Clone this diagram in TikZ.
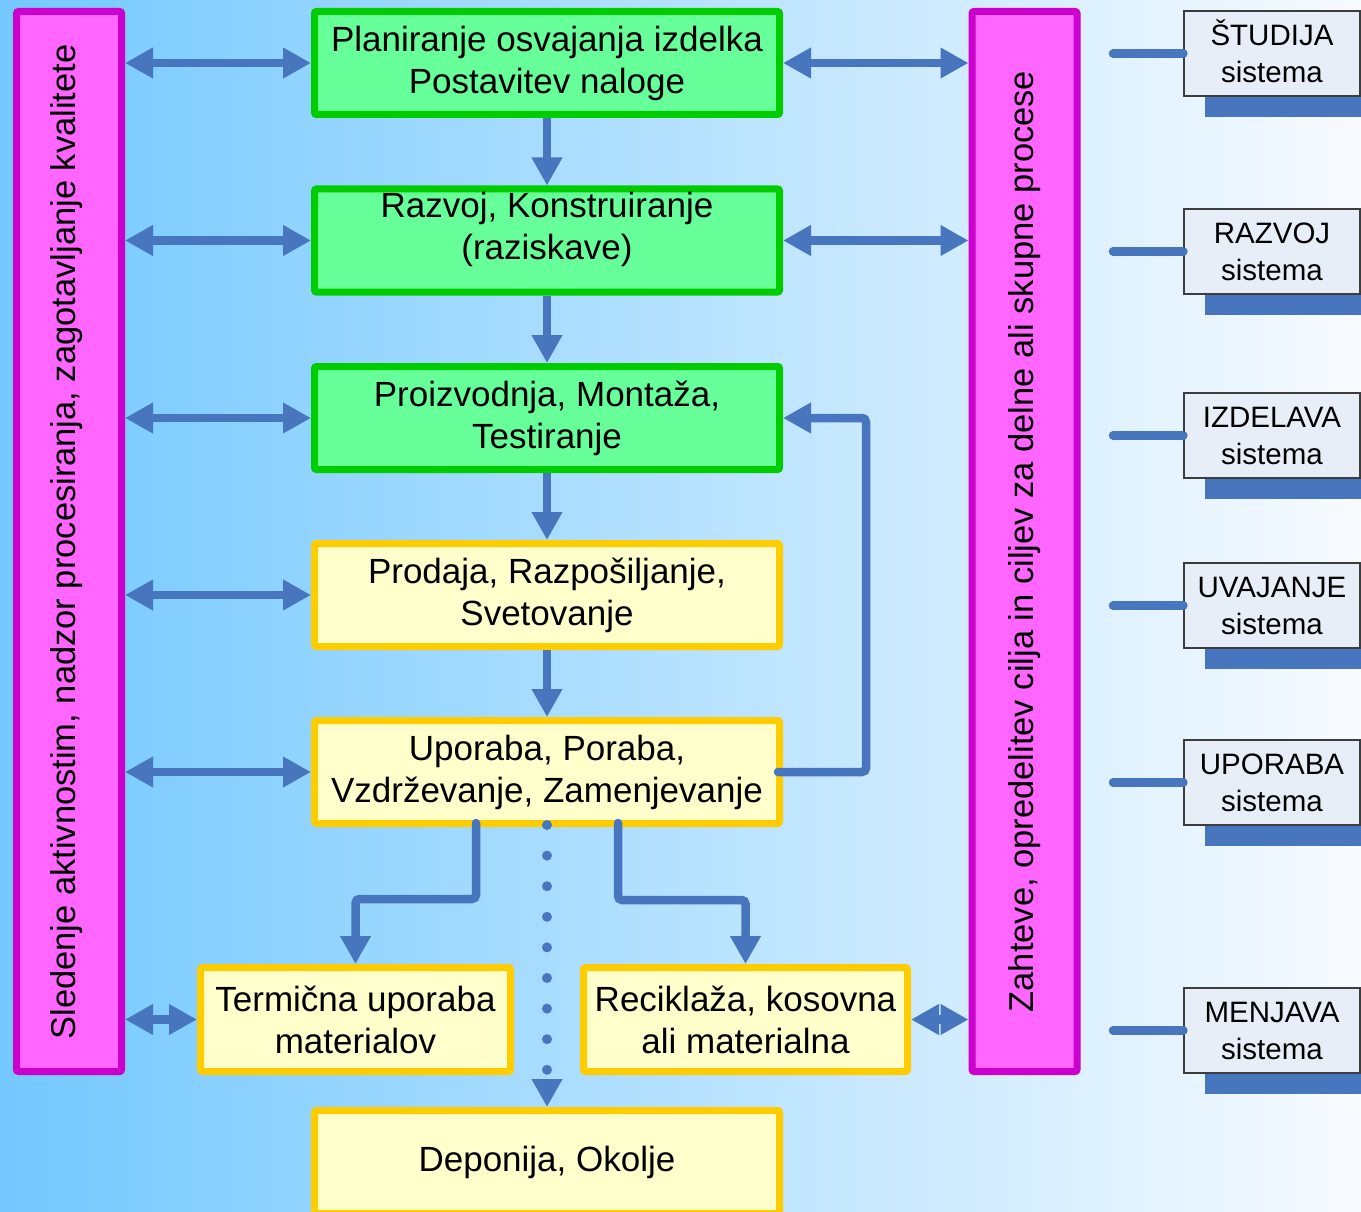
\documentclass[tikz,border=0pt]{standalone}
\usepackage{fontspec}
\setmainfont{Liberation Sans}
\usetikzlibrary{arrows.meta,calc}
\definecolor{arrblue}{RGB}{72,118,190}
\definecolor{gborder}{RGB}{0,204,0}
\definecolor{gfill}{RGB}{102,255,153}
\definecolor{yborder}{RGB}{255,204,0}
\definecolor{yfill}{RGB}{255,255,204}
\definecolor{mborder}{RGB}{204,0,204}
\definecolor{mfill}{RGB}{255,102,255}
\definecolor{sfill}{RGB}{232,238,248}
\definecolor{sborder}{RGB}{60,60,60}
\definecolor{bgl}{RGB}{115,200,255}
\definecolor{bgm}{RGB}{195,230,255}
\definecolor{bgr}{RGB}{248,251,255}
\begin{document}
\begin{tikzpicture}[x=1pt,y=-1pt,
  box/.style={draw, line width=7pt, rounded corners=2pt, minimum width=465pt, minimum height=103pt, align=center, font=\fontsize{35}{42}\selectfont, inner sep=0pt},
  gbox/.style={box, draw=gborder, fill=gfill},
  ybox/.style={box, draw=yborder, fill=yfill},
  boxtext/.style={align=center, font=\fontsize{35}{42}\selectfont, inner sep=0pt},
  bar/.style={draw=mborder, fill=mfill, line width=7pt, rounded corners=2pt, minimum width=105pt, minimum height=1060pt, inner sep=0pt},
  bartext/.style={rotate=90, font=\fontsize{34.5}{42}\selectfont, inner sep=0pt},
  bt/.tip={Triangle[length=28pt,width=29pt]},
  conn/.style={draw=arrblue, line width=8.5pt},
  dbl/.style={conn, bt-bt},
  one/.style={conn, -bt, rounded corners=4pt},
  sbox/.style={draw=sborder, fill=sfill, line width=1.2pt, minimum width=176pt, minimum height=85pt, align=center, font=\fontsize{29.5}{36.5}\selectfont, inner sep=0pt},
  shadowbar/.style={fill=arrblue, draw=none},
  stub/.style={draw=arrblue, line width=8.5pt, line cap=round}
]
\path[use as bounding box] (0,0) rectangle (1361,1212);
\clip (0,0) rectangle (1361,1212);
\shade[left color=bgl, middle color=bgm, right color=bgr] (0,0) rectangle (1361,1212);

% bars
\node[bar] (lbar) at (69,541.5) {};
\node[bartext] (ltext) at (67,542) {Sledenje aktivnostim, nadzor procesiranja, zagotavljanje kvalitete};
\node[bar] (rbar) at (1024.5,541.5) {};
\node[bartext] (rtext) at (1025,541.5) {Zahteve, opredelitev cilja in ciljev za delne ali skupne procese};

% main boxes
\node[gbox] (b1) at (547,63) {Planiranje osvajanja izdelka\\Postavitev naloge};
\node[gbox] (b2) at (547,240.5) {};
\node[boxtext] (b2t) at (547,229) {Razvoj, Konstruiranje\\(raziskave)};
\node[gbox] (b3) at (547,418) {Proizvodnja, Montaža,\\Testiranje};
\node[ybox] (b4) at (547,595) {Prodaja, Razpošiljanje,\\Svetovanje};
\node[ybox] (b5) at (547,772) {Uporaba, Poraba,\\Vzdrževanje, Zamenjevanje};
\node[ybox, minimum width=310pt, minimum height=104pt] (term) at (355.5,1019.5) {Termična uporaba\\materialov};
\node[ybox, minimum width=324pt, minimum height=104pt] (rec) at (745.5,1019.5) {Reciklaža, kosovna\\ali materialna};
\node[ybox] (dep) at (547,1162) {Deponija, Okolje};

% vertical flow
\draw[conn, -bt] (b1) -- (b2);
\draw[conn, -bt] (b2) -- (b3);
\draw[conn, -bt] (b3) -- (b4);
\draw[conn, -bt] (b4) -- (b5);

% double arrows left
\foreach \n in {b1,b2,b3,b4,b5,term}{
  \draw[dbl] (lbar.east |- \n.west) -- (\n.west);
}
% double arrows right
\foreach \n in {b1,b2,rec}{
  \draw[dbl] (\n.east) -- (rbar.west |- \n.east);
}

% feedback
\draw[one, line cap=round] ([xshift=-5pt]b5.east) -- (866,772) -- (866,418) -- (b3.east);

% elbows
\draw[one, line cap=round] ([xshift=-71pt,yshift=4pt]b5.south) -- (476,899) -| (term.north);
\draw[one, line cap=round] ([xshift=71pt,yshift=4pt]b5.south) -- (618,900) -| (rec.north);

% dotted
\draw[draw=arrblue, line width=10pt, line cap=round, dash pattern=on 0pt off 30.6pt, -{Triangle[length=28pt,width=29pt,line cap=butt,sep=0pt]}] ([yshift=2pt]b5.south) -- (dep.north);

% right side system boxes
\foreach \name/\lab/\yy in {s1/ŠTUDIJA/53.5, s2/RAZVOJ/251.5, s3/IZDELAVA/435.5, s4/UVAJANJE/605.5, s5/UPORABA/782.5, s6/MENJAVA/1030.5}{
  \fill[shadowbar] (1205,\yy+21) rectangle (1382,\yy+63.5);
  \node[sbox] (\name) at (1272,\yy) {\raisebox{0pt}[21pt][0pt]{\lab}\\sistema};
  \coordinate (\name c) at (1113,\yy);
  \draw[stub] (\name c) -- (\name.west);
}
\end{tikzpicture}
\end{document}
